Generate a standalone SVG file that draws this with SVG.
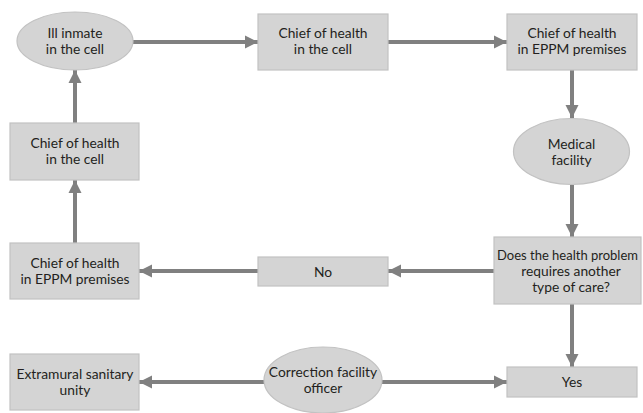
<svg xmlns="http://www.w3.org/2000/svg" width="643" height="413" viewBox="0 0 643 413">
<defs>
<style>
.box{fill:#d4d4d4;stroke:#c2c2c2;stroke-width:1.2}
.ell{fill:#d4d4d4;stroke:#c2c2c2;stroke-width:1.2}
text{font-family:Lato,"Open Sans","Liberation Sans",sans-serif;font-size:13.8px;fill:#231f20;text-anchor:middle}
.con{stroke:#808080;stroke-width:4;fill:none}
</style>
<marker id="ah" viewBox="0 0 10 10" refX="10" refY="5" markerUnits="userSpaceOnUse" markerWidth="13" markerHeight="14" orient="auto">
<path d="M0,0 L10,5 L0,10 z" fill="#808080"/>
</marker>
</defs>
<rect width="643" height="413" fill="#ffffff"/>
<g id="connectors">
<line class="con" x1="133" y1="42" x2="258" y2="42" marker-end="url(#ah)"/>
<line class="con" x1="388" y1="42" x2="507" y2="42" marker-end="url(#ah)"/>
<line class="con" x1="572" y1="70" x2="572" y2="118" marker-end="url(#ah)"/>
<line class="con" x1="572" y1="185" x2="572" y2="237" marker-end="url(#ah)"/>
<line class="con" x1="494" y1="271" x2="388" y2="271" marker-end="url(#ah)"/>
<line class="con" x1="258" y1="271" x2="139" y2="271" marker-end="url(#ah)"/>
<line class="con" x1="75" y1="243" x2="75" y2="180" marker-end="url(#ah)"/>
<line class="con" x1="75" y1="123" x2="75" y2="70" marker-end="url(#ah)"/>
<line class="con" x1="572" y1="304" x2="572" y2="367" marker-end="url(#ah)"/>
<line class="con" x1="264" y1="382" x2="139" y2="382" marker-end="url(#ah)"/>
<line class="con" x1="382" y1="382" x2="507" y2="382" marker-end="url(#ah)"/>
</g>
<g id="ill-inmate">
<ellipse class="ell" cx="75" cy="41" rx="58" ry="29"/>
<text x="75" y="38">Ill inmate</text>
<text x="75" y="54">in the cell</text>
</g>
<g id="chief-cell-top">
<rect class="box" x="258" y="14" width="130" height="56"/>
<text x="323" y="38">Chief of health</text>
<text x="323" y="54">in the cell</text>
</g>
<g id="chief-eppm-top">
<rect class="box" x="507" y="14" width="130" height="56"/>
<text x="572" y="38">Chief of health</text>
<text x="572" y="54">in EPPM premises</text>
</g>
<g id="medical-facility">
<ellipse class="ell" cx="571.5" cy="151.5" rx="58" ry="33"/>
<text x="571.5" y="149">Medical</text>
<text x="571.5" y="165">facility</text>
</g>
<g id="decision">
<rect class="box" x="494" y="237" width="147" height="67"/>
<text x="567.5" y="260" style="font-size:13px">Does the health problem</text>
<text x="571" y="276">requires another</text>
<text x="571" y="292">type of care?</text>
</g>
<g id="no">
<rect class="box" x="258" y="257" width="130" height="29"/>
<text x="323" y="277">No</text>
</g>
<g id="chief-eppm-left">
<rect class="box" x="10" y="243" width="129" height="56"/>
<text x="75" y="268">Chief of health</text>
<text x="75" y="284">in EPPM premises</text>
</g>
<g id="chief-cell-left">
<rect class="box" x="10" y="123" width="129" height="57"/>
<text x="75" y="148">Chief of health</text>
<text x="75" y="164">in the cell</text>
</g>
<g id="extramural">
<rect class="box" x="10" y="354" width="129" height="56"/>
<text x="75" y="379">Extramural sanitary</text>
<text x="75" y="395">unity</text>
</g>
<g id="correction-officer">
<ellipse class="ell" cx="323" cy="380" rx="59" ry="33"/>
<text x="323" y="377">Correction facility</text>
<text x="323" y="393">officer</text>
</g>
<g id="yes">
<rect class="box" x="507" y="367" width="130" height="30"/>
<text x="572" y="387">Yes</text>
</g>
</svg>
